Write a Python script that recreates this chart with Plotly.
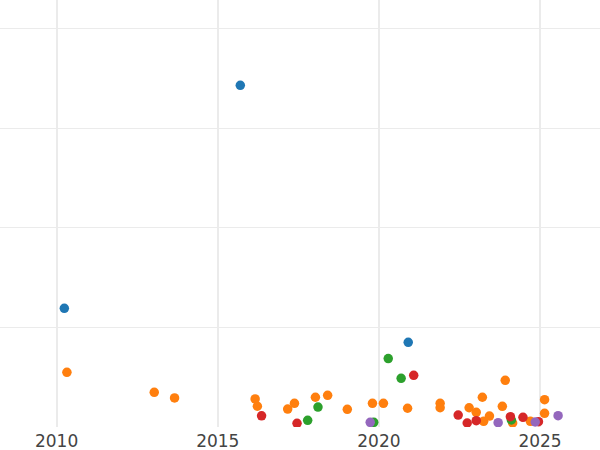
import plotly.graph_objects as go

# Series data (year, value)
blue_x = [2010.24, 2015.70, 2020.91]
blue_y = [11.94, 34.29, 8.54]

orange_x = [2010.32, 2013.03, 2013.66, 2016.16, 2016.23, 2017.17, 2017.38, 2018.03, 2018.41,
            2019.02, 2019.80, 2020.14, 2020.89, 2021.90, 2021.90, 2022.80, 2023.02, 2023.21,
            2023.25, 2023.43, 2023.83, 2023.92, 2024.15, 2024.70, 2025.14, 2025.14]
orange_y = [5.53, 3.53, 2.96, 2.86, 2.13, 1.85, 2.42, 3.03, 3.23,
            1.82, 2.42, 2.42, 1.93, 2.42, 1.98, 1.98, 1.52, 3.03,
            0.62, 1.15, 2.12, 4.73, 0.45, 0.62, 2.79, 1.42]

green_x = [2017.79, 2018.11, 2019.84, 2020.29, 2020.69, 2024.11]
green_y = [0.72, 2.05, 0.52, 6.91, 4.93, 0.75]

red_x = [2016.36, 2017.46, 2021.08, 2022.46, 2022.74, 2023.02, 2024.08, 2024.47, 2024.95]
red_y = [1.17, 0.42, 5.23, 1.25, 0.45, 0.68, 1.08, 1.02, 0.58]

purple_x = [2019.73, 2023.70, 2024.85, 2025.56]
purple_y = [0.52, 0.48, 0.55, 1.18]

x_tickvals = [2010, 2015, 2020, 2025]
x_ticktext = ["2010", "2015", "2020", "2025"]
y_tickvals = [10, 20, 30, 40]

series = [
    (blue_x, blue_y, "#1f77b4"),
    (orange_x, orange_y, "#ff7f0e"),
    (green_x, green_y, "#2ca02c"),
    (red_x, red_y, "#d62728"),
    (purple_x, purple_y, "#9467bd"),
]

fig = go.Figure()
for xs, ys, col in series:
    fig.add_trace(go.Scatter(x=xs, y=ys, mode="markers",
                             marker=dict(color=col, size=9.5, line=dict(width=0)),
                             showlegend=False, hoverinfo="skip"))

fig.update_layout(
    width=600, height=450,
    margin=dict(l=0, r=0, t=0, b=23, pad=0),
    paper_bgcolor="white", plot_bgcolor="white",
    font=dict(family="DejaVu Sans", size=17, color="#444444"),
    xaxis=dict(range=[2008.244, 2026.86], tickvals=x_tickvals, ticktext=x_ticktext,
               showgrid=True, gridcolor="#ebebeb", gridwidth=2, zeroline=False,
               showline=False, ticks="", ticklabelstandoff=2),
    yaxis=dict(range=[0.05, 42.84], tickvals=y_tickvals, showticklabels=False,
               showgrid=True, gridcolor="#ebebeb", gridwidth=1, zeroline=False,
               showline=False, ticks=""),
)

fig.write_html("out.html", config={"displayModeBar": False},
               post_script="document.body.style.margin='0px';")
